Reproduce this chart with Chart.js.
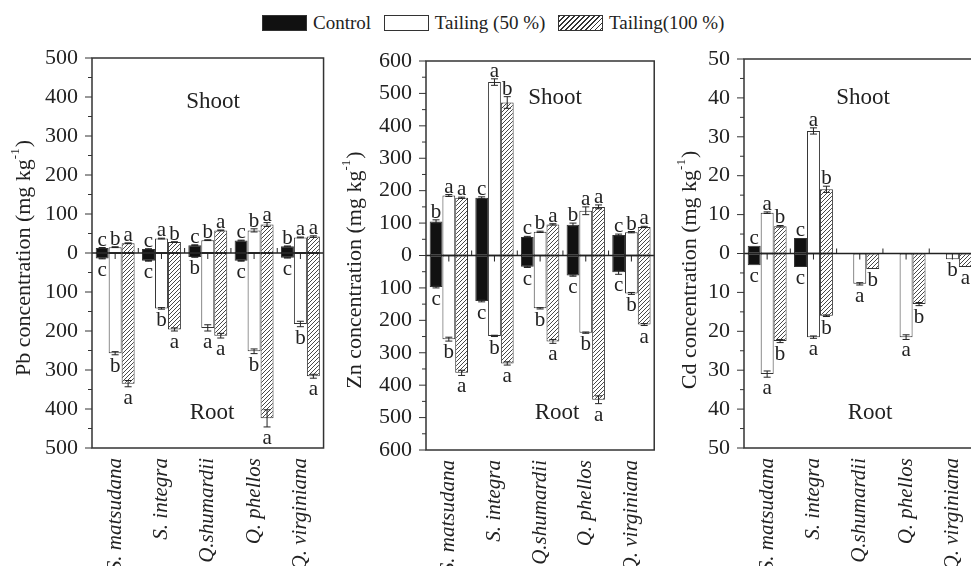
<!DOCTYPE html>
<html>
<head>
<meta charset="utf-8">
<script src="https://cdn.jsdelivr.net/npm/chart.js@4.4.1/dist/chart.umd.min.js"></script>
<style>
  html, body { margin: 0; padding: 0; overflow: hidden; background: #fff; }
  body { width: 971px; height: 566px; position: relative; font-family: "Liberation Serif", "Times New Roman", Times, "DejaVu Serif", serif; color: #222; }
  canvas { position: absolute; top: 0; }
  #legend { position: absolute; top: 11px; left: 262px; white-space: nowrap; font-size: 19px; line-height: 19px; }
  #legend span { display: inline-block; vertical-align: middle; }
  #legend .box { width: 43px; height: 14px; border: 1px solid #333; margin-right: 6px; }
  #legend .txt { margin-right: 8px; }
  .ctrl { background: #111; }
  .t50 { background: #fff; }
  .t100 { background: repeating-linear-gradient(135deg, #333 0 1px, #fff 1px 3.5px); }
</style>
</head>
<body>
<div id="legend">
  <span class="box ctrl"></span><span class="txt">Control</span>
  <span class="box t50"></span><span class="txt">Tailing (50 %)</span>
  <span class="box t100"></span><span class="txt">Tailing(100 %)</span>
</div>
<canvas id="pbChart" width="336" height="566" style="left:0px"></canvas>
<canvas id="znChart" width="333" height="566" style="left:334px"></canvas>
<canvas id="cdChart" width="320" height="566" style="left:668px"></canvas>
<script>
/* --------------- Categories --------------------- */
const species = ["S. matsudana", "S. integra", "Q.shumardii", "Q. phellos", "Q. virginiana"];
const treatments = ["Control", "Tailing (50 %)", "Tailing(100 %)"];

/* --------------- Pb (mg kg-1) --------------------- */
const pbShootCtrl = [13, 10, 20, 32, 17];
const pbShoot50 = [15, 37, 33, 58, 40];
const pbShoot100 = [25, 28, 58, 73, 42];
const pbRootCtrl = [14, 20, 10, 20, 12];
const pbRoot50 = [257, 142, 192, 252, 182];
const pbRoot100 = [335, 196, 212, 424, 316];
const pbShootErr = [[1, 1, 1, 1, 1], [1, 1, 1, 4, 1], [1, 1, 1, 5, 2]];
const pbRootErr = [[1, 1, 1, 1, 1], [4, 2, 8, 6, 7], [8, 4, 6, 22, 5]];
const pbShootLetters = [["c", "c", "c", "c", "b"], ["b", "a", "b", "b", "a"], ["a", "b", "a", "a", "a"]];
const pbRootLetters = [["c", "c", "b", "c", "c"], ["b", "b", "a", "b", "b"], ["a", "a", "a", "a", "a"]];

/* --------------- Zn (mg kg-1) --------------------- */
const znShootCtrl = [105, 178, 57, 95, 63];
const znShoot50 = [185, 535, 73, 138, 72];
const znShoot100 = [178, 472, 96, 150, 88];
const znRootCtrl = [97, 140, 35, 62, 52];
const znRoot50 = [258, 248, 163, 238, 117];
const znRoot100 = [362, 333, 265, 445, 213];
const znShootErr = [[5, 3, 2, 5, 3], [3, 10, 2, 12, 2], [2, 18, 2, 6, 2]];
const znRootErr = [[3, 3, 2, 2, 6], [6, 2, 2, 2, 3], [8, 5, 6, 12, 3]];
const znShootLetters = [["b", "c", "c", "b", "c"], ["a", "a", "b", "a", "b"], ["a", "b", "a", "a", "a"]];
const znRootLetters = [["c", "c", "c", "c", "c"], ["b", "b", "b", "b", "b"], ["a", "a", "a", "a", "a"]];

/* --------------- Cd (mg kg-1) --------------------- */
const cdShootCtrl = [2, 4, 0, 0, 0];
const cdShoot50 = [10.5, 31.5, 0, 0, 0];
const cdShoot100 = [7, 16.5, 0, 0, 0];
const cdRootCtrl = [3, 3.5, 0, 0, 0];
const cdRoot50 = [31, 21.5, 7.8, 21.5, 1.5];
const cdRoot100 = [22.5, 16, 4, 13, 3.5];
const cdShootErr = [[0, 0, 0, 0, 0], [0.2, 0.8, 0, 0, 0], [0.2, 0.8, 0, 0, 0]];
const cdRootErr = [[0, 0, 0, 0, 0], [0.8, 0.3, 0.3, 0.6, 0], [0.4, 0.2, 0, 0.4, 0]];
const cdShootLetters = [["c", "c", "", "", ""], ["a", "a", "", "", ""], ["b", "b", "", "", ""]];
const cdRootLetters = [["c", "c", "", "", ""], ["a", "a", "a", "a", "b"], ["b", "b", "b", "b", "a"]];

const FONT = "'Liberation Serif', 'Times New Roman', Times, 'DejaVu Serif', serif";

/* --------------- Hatch pattern --------------------- */
function makeHatch() {
  const c = document.createElement("canvas");
  c.width = 4; c.height = 4;
  const g = c.getContext("2d");
  g.fillStyle = "#fff";
  g.fillRect(0, 0, 4, 4);
  g.strokeStyle = "#333";
  g.lineWidth = 0.9;
  g.beginPath();
  g.moveTo(0, 4); g.lineTo(4, 0);
  g.moveTo(-1, 1); g.lineTo(1, -1);
  g.moveTo(3, 5); g.lineTo(5, 3);
  g.stroke();
  return g.createPattern(c, "repeat");
}
const hatch = makeHatch();
const fills = ["#111", "#fff", hatch];

/* --------------- Panels --------------------- */
const panels = [
  { canvas: "pbChart", metal: "Pb", left: 0, axisW: 92, top: 58, xH: 118, max: 500, step: 100,
    shoot: [pbShootCtrl, pbShoot50, pbShoot100], root: [pbRootCtrl, pbRoot50, pbRoot100],
    shootErr: pbShootErr, rootErr: pbRootErr, shootLet: pbShootLetters, rootLet: pbRootLetters,
    titleX: 24, titleY: 258, shootX: 213, shootY: 102, rootX: 212, rootY: 413 },
  { canvas: "znChart", metal: "Zn", left: 334, axisW: 92, top: 61, xH: 116, max: 600, step: 100,
    shoot: [znShootCtrl, znShoot50, znShoot100], root: [znRootCtrl, znRoot50, znRoot100],
    shootErr: znShootErr, rootErr: znRootErr, shootLet: znShootLetters, rootLet: znRootLetters,
    titleX: 355, titleY: 270, shootX: 555, shootY: 98, rootX: 557, rootY: 413 },
  { canvas: "cdChart", metal: "Cd", left: 668, axisW: 76, top: 59, xH: 118, max: 50, step: 10,
    shoot: [cdShootCtrl, cdShoot50, cdShoot100], root: [cdRootCtrl, cdRoot50, cdRoot100],
    shootErr: cdShootErr, rootErr: cdRootErr, shootLet: cdShootLetters, rootLet: cdRootLetters,
    titleX: 690, titleY: 270, shootX: 863, shootY: 98, rootX: 870, rootY: 413 },
];

function errorBar(ctx, x, y1, y2) {
  ctx.beginPath();
  ctx.moveTo(x, y1); ctx.lineTo(x, y2);
  ctx.moveTo(x - 3.5, y1); ctx.lineTo(x + 3.5, y1);
  ctx.moveTo(x - 3.5, y2); ctx.lineTo(x + 3.5, y2);
  ctx.stroke();
}

// draws frame, ticks, zero axis, error bars, letters and labels
function extras(p) {
  return {
    id: "extras" + p.metal,
    afterDatasetsDraw(chart) {
      const ctx = chart.ctx, a = chart.chartArea, ys = chart.scales.y, xs = chart.scales.x;
      ctx.save();
      ctx.strokeStyle = "#222";
      ctx.fillStyle = "#222";
      ctx.lineWidth = 1;
      ctx.textAlign = "center";
      ctx.font = "21px " + FONT;
      for (let t = 0; t < 3; t++) {
        const meta = chart.getDatasetMeta(t * 2);
        species.forEach((_, i) => {
          const bx = meta.data[i].x;
          const sv = p.shoot[t][i], se = p.shootErr[t][i];
          const rv = p.root[t][i], re = p.rootErr[t][i];
          if (sv > 0 && se > 0) errorBar(ctx, bx, ys.getPixelForValue(sv + se), ys.getPixelForValue(sv - se));
          if (rv > 0 && re > 0) errorBar(ctx, bx, ys.getPixelForValue(-(rv + re)), ys.getPixelForValue(-(rv - re)));
          if (p.shootLet[t][i]) {
            ctx.textBaseline = "alphabetic";
            ctx.fillText(p.shootLet[t][i], bx, ys.getPixelForValue(sv + se) - 2);
          }
          if (p.rootLet[t][i]) {
            ctx.textBaseline = "top";
            ctx.fillText(p.rootLet[t][i], bx, ys.getPixelForValue(-(rv + re)) + 1);
          }
        });
      }
      // zero axis with ticks
      const y0 = ys.getPixelForValue(0);
      ctx.lineWidth = 1.5;
      ctx.beginPath();
      ctx.moveTo(a.left, y0); ctx.lineTo(a.right, y0);
      ctx.stroke();
      ctx.lineWidth = 1;
      ctx.beginPath();
      species.forEach((_, i) => {
        const cx = xs.getPixelForValue(i);
        ctx.moveTo(cx, y0); ctx.lineTo(cx, y0 + 6);
        if (i < species.length - 1) {
          const bx = (cx + xs.getPixelForValue(i + 1)) / 2;
          ctx.moveTo(bx, y0); ctx.lineTo(bx, y0 - 5);
        }
      });
      ctx.stroke();
      // frame
      ctx.lineWidth = 1.5;
      ctx.strokeStyle = "#333";
      ctx.strokeRect(a.left, a.top, a.right - a.left, a.bottom - a.top);
      // y ticks, major and minor
      ctx.lineWidth = 1;
      ctx.beginPath();
      for (let v = -p.max; v <= p.max; v += p.step / 2) {
        const py = ys.getPixelForValue(v);
        const len = (Math.round(v / (p.step / 2)) % 2 === 0) ? 7 : 4;
        ctx.moveTo(a.left, py); ctx.lineTo(a.left - len, py);
      }
      ctx.stroke();
      // Shoot / Root
      ctx.font = "23px " + FONT;
      ctx.textBaseline = "middle";
      ctx.fillText("Shoot", p.shootX - p.left, p.shootY);
      ctx.fillText("Root", p.rootX - p.left, p.rootY);
      // y title with superscript
      const main = p.metal + " concentration (mg kg";
      const sup = "-1";
      ctx.translate(p.titleX - p.left, p.titleY);
      ctx.rotate(-Math.PI / 2);
      ctx.font = "22px " + FONT;
      const wMain = ctx.measureText(main).width;
      const wEnd = ctx.measureText(")").width;
      ctx.font = "13px " + FONT;
      const wSup = ctx.measureText(sup).width + 1;
      const total = wMain + wSup + wEnd;
      ctx.textAlign = "left";
      ctx.textBaseline = "middle";
      let tx = -total / 2;
      ctx.font = "22px " + FONT;
      ctx.fillText(main, tx, 0);
      tx += wMain;
      ctx.font = "13px " + FONT;
      ctx.fillText(sup, tx, -8);
      tx += wSup;
      ctx.font = "22px " + FONT;
      ctx.fillText(")", tx, 0);
      ctx.restore();
    }
  };
}

/* --------------- Charts --------------------- */
panels.forEach((p) => {
  const datasets = [];
  treatments.forEach((name, t) => {
    const base = {
      stack: "s" + t,
      backgroundColor: fills[t],
      borderColor: "#333",
      borderWidth: (c) => (c.raw === 0 ? 0 : 1),
      borderSkipped: false,
      categoryPercentage: 0.84,
      barPercentage: 1.0,
    };
    datasets.push(Object.assign({ label: name + " shoot", data: p.shoot[t] }, base));
    datasets.push(Object.assign({ label: name + " root", data: p.root[t].map((v) => -v) }, base));
  });

  new Chart(document.getElementById(p.canvas), {
    type: "bar",
    plugins: [extras(p)],
    data: { labels: species, datasets: datasets },
    options: {
      responsive: false,
      animation: false,
      layout: { padding: { top: p.top, right: 4, left: 0, bottom: 0 } },
      plugins: { legend: { display: false }, tooltip: { enabled: false } },
      scales: {
        x: {
          grid: { display: false, drawTicks: false },
          border: { display: false },
          afterFit: (s) => { s.height = p.xH; },
          ticks: {
            autoSkip: false,
            maxRotation: 90,
            minRotation: 90,
            padding: 10,
            color: "#222",
            font: { family: FONT, size: 21, style: "italic" },
          },
        },
        y: {
          stacked: true,
          min: -p.max,
          max: p.max,
          grid: { display: false, drawTicks: false },
          border: { display: false },
          afterFit: (s) => { s.width = p.axisW; },
          ticks: {
            stepSize: p.step,
            autoSkip: false,
            padding: 14,
            color: "#222",
            font: { family: FONT, size: 22 },
            callback: (v) => Math.abs(v),
          },
        },
      },
    },
  });
});
</script>
</body>
</html>
